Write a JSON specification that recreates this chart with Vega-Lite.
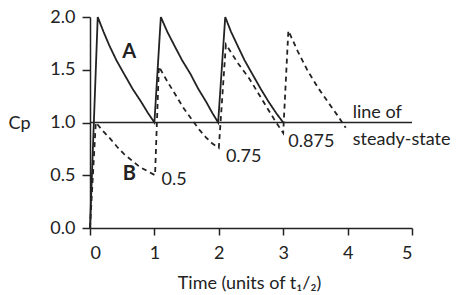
{
  "$schema": "https://vega.github.io/schema/vega-lite/v6.json",
  "width": 322,
  "height": 211,
  "autosize": {"type": "none"},
  "padding": {"left": 90, "top": 17, "right": 46, "bottom": 67},
  "config": {
    "view": {"stroke": null},
    "font": "Lato",
    "axis": {
      "grid": false,
      "domainColor": "#222",
      "domainWidth": 1.5,
      "tickColor": "#222",
      "tickWidth": 1.5,
      "labelColor": "#222",
      "labelFontSize": 18,
      "labelFont": "Lato",
      "titleColor": "#222",
      "titleFont": "Lato",
      "titleFontSize": 18,
      "titleFontWeight": "normal"
    }
  },
  "encoding": {
    "x": {
      "field": "t", "type": "quantitative",
      "scale": {"domain": [0, 5], "nice": false, "zero": false},
      "axis": {
        "values": [0, 1, 2, 3, 4, 5], "format": "d",
        "tickSize": 7, "labelPadding": 9,
        "title": "Time (units of t₁/₂)",
        "titleX": 159, "titleY": 60, "titleAlign": "center", "titleBaseline": "alphabetic"
      }
    },
    "y": {
      "field": "v", "type": "quantitative",
      "scale": {"domain": [0, 2], "nice": false, "zero": false},
      "axis": {
        "values": [0, 0.5, 1, 1.5, 2], "format": ".1f",
        "tickSize": 8, "labelPadding": 7,
        "title": "Cp", "titleAngle": 0,
        "titleX": -82, "titleY": 111, "titleAlign": "left", "titleBaseline": "alphabetic"
      }
    }
  },
  "layer": [
    {
      "data": {"values": [{"t": 0, "t2": 5, "v": 1}]},
      "mark": {"type": "rule", "color": "#222", "strokeWidth": 1.5},
      "encoding": {"x2": {"field": "t2"}}
    },
    {
      "data": {"values": [
        {"s": "A", "t": 0, "v": 0},
        {"s": "A", "t": 0.12, "v": 2.0},
        {"s": "A", "t": 0.21, "v": 1.86},
        {"s": "A", "t": 0.30, "v": 1.73},
        {"s": "A", "t": 0.41, "v": 1.59},
        {"s": "A", "t": 0.53, "v": 1.46},
        {"s": "A", "t": 0.66, "v": 1.32},
        {"s": "A", "t": 0.79, "v": 1.20},
        {"s": "A", "t": 0.90, "v": 1.09},
        {"s": "A", "t": 1.00, "v": 1.0},
        {"s": "A", "t": 1.10, "v": 2.0},
        {"s": "A", "t": 1.20, "v": 1.86},
        {"s": "A", "t": 1.31, "v": 1.73},
        {"s": "A", "t": 1.43, "v": 1.59},
        {"s": "A", "t": 1.56, "v": 1.46},
        {"s": "A", "t": 1.68, "v": 1.32},
        {"s": "A", "t": 1.80, "v": 1.20},
        {"s": "A", "t": 1.90, "v": 1.09},
        {"s": "A", "t": 1.99, "v": 1.0},
        {"s": "A", "t": 2.10, "v": 2.0},
        {"s": "A", "t": 2.19, "v": 1.86},
        {"s": "A", "t": 2.29, "v": 1.73},
        {"s": "A", "t": 2.40, "v": 1.59},
        {"s": "A", "t": 2.52, "v": 1.46},
        {"s": "A", "t": 2.65, "v": 1.32},
        {"s": "A", "t": 2.77, "v": 1.20},
        {"s": "A", "t": 2.89, "v": 1.09},
        {"s": "A", "t": 3.00, "v": 1.0},
        {"s": "B", "t": 0, "v": 0},
        {"s": "B", "t": 0.09, "v": 1.0},
        {"s": "B", "t": 0.20, "v": 0.92},
        {"s": "B", "t": 0.31, "v": 0.85},
        {"s": "B", "t": 0.42, "v": 0.77},
        {"s": "B", "t": 0.53, "v": 0.70},
        {"s": "B", "t": 0.65, "v": 0.64},
        {"s": "B", "t": 0.77, "v": 0.58},
        {"s": "B", "t": 0.89, "v": 0.54},
        {"s": "B", "t": 1.01, "v": 0.5},
        {"s": "B", "t": 1.07, "v": 1.53},
        {"s": "B", "t": 1.20, "v": 1.39},
        {"s": "B", "t": 1.33, "v": 1.26},
        {"s": "B", "t": 1.46, "v": 1.13},
        {"s": "B", "t": 1.59, "v": 1.02},
        {"s": "B", "t": 1.70, "v": 0.93},
        {"s": "B", "t": 1.80, "v": 0.86},
        {"s": "B", "t": 1.90, "v": 0.80},
        {"s": "B", "t": 2.00, "v": 0.76},
        {"s": "B", "t": 2.11, "v": 1.74},
        {"s": "B", "t": 2.30, "v": 1.56},
        {"s": "B", "t": 2.48, "v": 1.41},
        {"s": "B", "t": 2.61, "v": 1.28},
        {"s": "B", "t": 2.74, "v": 1.15},
        {"s": "B", "t": 2.87, "v": 1.02},
        {"s": "B", "t": 3.00, "v": 0.9},
        {"s": "B", "t": 3.08, "v": 1.87},
        {"s": "B", "t": 3.23, "v": 1.67},
        {"s": "B", "t": 3.38, "v": 1.49},
        {"s": "B", "t": 3.54, "v": 1.33},
        {"s": "B", "t": 3.70, "v": 1.19},
        {"s": "B", "t": 3.84, "v": 1.07},
        {"s": "B", "t": 3.97, "v": 0.95}
      ]},
      "mark": {"type": "line", "color": "#222", "strokeWidth": 1.8},
      "encoding": {
        "detail": {"field": "s"},
        "strokeDash": {
          "field": "s", "type": "nominal",
          "scale": {"domain": ["A", "B"], "range": [[1, 0], [5, 4]]},
          "legend": null
        }
      }
    },
    {
      "data": {"values": [
        {"label": "A", "t": 0.61, "v": 1.61},
        {"label": "B", "t": 0.61, "v": 0.455}
      ]},
      "mark": {"type": "text", "font": "Lato", "fontSize": 20, "fontWeight": "bold", "color": "#222", "align": "center", "baseline": "alphabetic"},
      "encoding": {"text": {"field": "label"}}
    },
    {
      "data": {"values": [
        {"label": "0.5", "t": 1.11, "v": 0.41},
        {"label": "0.75", "t": 2.11, "v": 0.63},
        {"label": "0.875", "t": 3.08, "v": 0.77},
        {"label": "line of", "t": 4.08, "v": 1.04},
        {"label": "steady-state", "t": 4.08, "v": 0.79}
      ]},
      "mark": {"type": "text", "font": "Lato", "fontSize": 18, "color": "#222", "align": "left", "baseline": "alphabetic"},
      "encoding": {"text": {"field": "label"}}
    }
  ]
}
